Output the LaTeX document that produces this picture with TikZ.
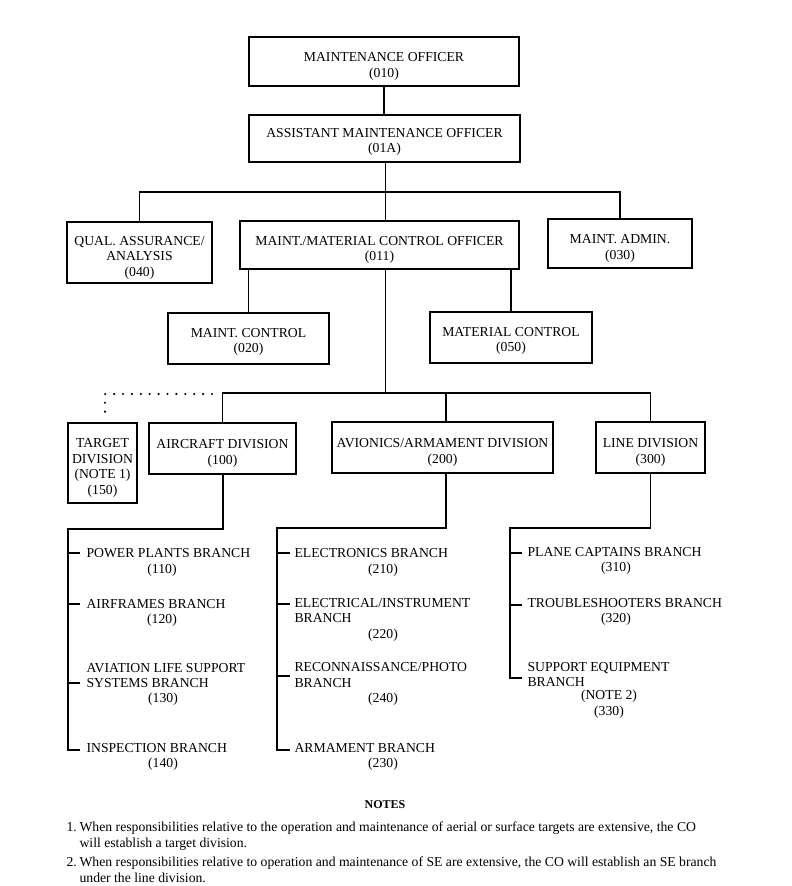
\documentclass[tikz,border=0pt]{standalone}
\usepackage{fontspec}
\setmainfont{Liberation Serif}
\newcommand\chartfont{\fontsize{13.7}{15.5}\selectfont}
\newcommand\notefont{\fontsize{13.7}{15}\selectfont}
\newcommand\dnstrut{\rule{0pt}{19pt}}
\begin{document}
\begin{tikzpicture}[x=1pt,y=-1pt,
  line width=1.1pt,
  box/.style={draw, line width=1.1pt, align=center, inner sep=0pt, font=\chartfont},
  brtext/.style={anchor=west, inner sep=0pt, align=left, font=\chartfont},
  numtext/.style={inner sep=0pt, align=center, font=\chartfont},
  notetext/.style={anchor=base west, inner sep=0pt, font=\notefont},
  dotline/.style={line width=2.4pt, line cap=round, dash pattern=on 0pt off 8.9pt}]
\useasboundingbox (0,0) rectangle (792,886);

% boxes
\node[box, minimum width=270pt, minimum height=49pt] (mo) at (384,61.5) {\dnstrut MAINTENANCE OFFICER\\(010)};
\node[box, minimum width=271pt, minimum height=47pt] (amo) at (384.5,138.5) {\rule{0pt}{16pt}ASSISTANT MAINTENANCE OFFICER\\(01A)};
\node[box, minimum width=145pt, minimum height=61pt] (qa) at (139.5,252.5) {\dnstrut QUAL. ASSURANCE/\\ANALYSIS\\(040)};
\node[box, minimum width=279pt, minimum height=48pt] (mmco) at (379.5,245) {\dnstrut MAINT./MATERIAL CONTROL OFFICER\\(011)};
\node[box, minimum width=144pt, minimum height=49pt] (admin) at (620,243.5) {\dnstrut MAINT. ADMIN.\\(030)};
\node[box, minimum width=161pt, minimum height=51pt] (mc) at (248.5,338.5) {\rule{0pt}{16pt}MAINT. CONTROL\\(020)};
\node[box, minimum width=162pt, minimum height=51pt] (matc) at (511,337.5) {\rule{0pt}{16pt}MATERIAL CONTROL\\(050)};
\node[box, minimum width=69pt, minimum height=80pt] (tgt) at (102.5,463) {\dnstrut TARGET\\DIVISION\\(NOTE 1)\\(150)};
\node[box, minimum width=147pt, minimum height=51pt] (ad) at (222.5,448.5) {\dnstrut AIRCRAFT DIVISION\\(100)};
\node[box, minimum width=221pt, minimum height=51pt] (aad) at (442.5,447.5) {\dnstrut AVIONICS/ARMAMENT DIVISION\\(200)};
\node[box, minimum width=109pt, minimum height=51pt] (ld) at (650.5,447.5) {\dnstrut LINE DIVISION\\(300)};

% upper connectors
\coordinate (hubA) at (385.5,192);
\coordinate (hubB) at (385.5,393);
\coordinate (aadIn) at (446,393);
\draw (mo.south) -- (mo.south |- amo.north);
\draw (amo.south -| hubA) -- (hubA);
\draw (qa.north) |- (hubA) -| (admin.north);
\draw (hubA) -- (hubA |- mmco.north);
\draw (mc.north) -- (mc.north |- mmco.south);
\draw (matc.north) -- (matc.north |- mmco.south);
\draw (hubA |- mmco.south) -- (hubB);
\draw (ad.north) |- (hubB) -| (ld.north);
\draw (aadIn) -- (aadIn |- aad.north);

% dotted link to target division
\coordinate (dotA) at (212,394);
\coordinate (dotB) at (105,394);
\coordinate (dotC) at (105,417);
\draw[dotline] (dotA) -- (dotB) -- (dotC);

% aircraft division branches
\node[brtext] (b110) at (86,553) {POWER PLANTS BRANCH};
\node[numtext] (n110) at (162,570) {(110)};
\node[brtext] (b120) at (86,604) {AIRFRAMES BRANCH};
\node[numtext] (n120) at (162,620) {(120)};
\node[brtext] (b130) at (86,675.5) {AVIATION LIFE SUPPORT\\SYSTEMS BRANCH};
\node[numtext] (n130) at (163,699) {(130)};
\node[brtext] (b140) at (86,748) {INSPECTION BRANCH};
\node[numtext] (n140) at (163,764) {(140)};

\coordinate (adT) at (223,529);
\coordinate (adS) at (68,529);
\coordinate (t110) at (80,553);
\coordinate (t120) at (80,604);
\coordinate (t130) at (80,683);
\coordinate (t140) at (80,750);
\draw (ad.south -| adT) -- (adT) -- (adS) |- (t140);
\draw (t110 -| adS) -- (t110);
\draw (t120 -| adS) -- (t120);
\draw (t130 -| adS) -- (t130);

% avionics/armament division branches
\node[brtext] (b210) at (294,553) {ELECTRONICS BRANCH};
\node[numtext] (n210) at (383,570) {(210)};
\node[brtext] (b220) at (294,610.5) {ELECTRICAL/INSTRUMENT\\BRANCH};
\node[numtext] (n220) at (383,635) {(220)};
\node[brtext] (b240) at (294,675) {RECONNAISSANCE/PHOTO\\BRANCH};
\node[numtext] (n240) at (383,699) {(240)};
\node[brtext] (b230) at (294,748) {ARMAMENT BRANCH};
\node[numtext] (n230) at (383,764) {(230)};

\coordinate (aadS) at (277,528);
\coordinate (t210) at (290,553);
\coordinate (t220) at (290,604);
\coordinate (t240) at (290,676);
\coordinate (t230) at (290,750);
\draw (aad.south -| aadIn) |- (aadS) |- (t230);
\draw (t210 -| aadS) -- (t210);
\draw (t220 -| aadS) -- (t220);
\draw (t240 -| aadS) -- (t240);

% line division branches
\node[brtext] (b310) at (527,552) {PLANE CAPTAINS BRANCH};
\node[numtext] (n310) at (616,568) {(310)};
\node[brtext] (b320) at (527,603) {TROUBLESHOOTERS BRANCH};
\node[numtext] (n320) at (616,619) {(320)};
\node[brtext] (b330) at (527,674.5) {SUPPORT EQUIPMENT\\BRANCH};
\node[numtext] (n330) at (609,704) {(NOTE 2)\\(330)};

\coordinate (ldS) at (510,528);
\coordinate (t310) at (522,553);
\coordinate (t320) at (522,605);
\coordinate (t330) at (522,678);
\draw (ld.south) |- (ldS) |- (t330);
\draw (t310 -| ldS) -- (t310);
\draw (t320 -| ldS) -- (t320);

% notes
\node[inner sep=0pt, font=\fontsize{12}{14}\selectfont\bfseries] (notes) at (385,805) {NOTES};
\node[notetext] (k1) at (66,831) {1.};
\node[notetext] (k1a) at (79,831) {When responsibilities relative to the operation and maintenance of aerial or surface targets are extensive, the CO};
\node[notetext] (k1b) at (79,847) {will establish a target division.};
\node[notetext] (k2) at (66,866) {2.};
\node[notetext] (k2a) at (79,866) {When responsibilities relative to operation and maintenance of SE are extensive, the CO will establish an SE branch};
\node[notetext] (k2b) at (79,882) {under the line division.};
\end{tikzpicture}
\end{document}
